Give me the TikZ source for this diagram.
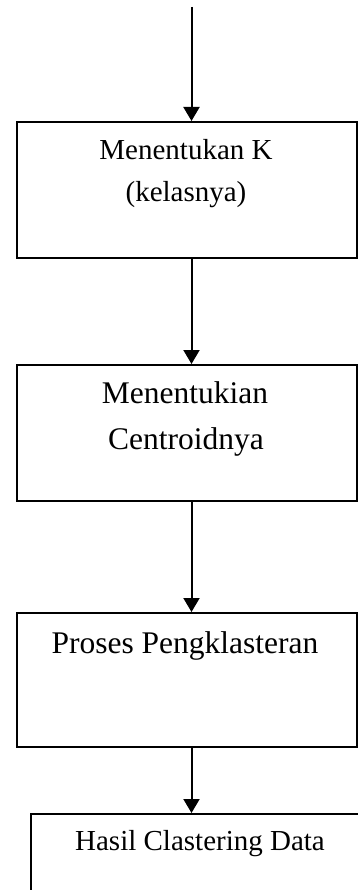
\documentclass[tikz,border=0pt]{standalone}
\usepackage{fontspec}
\setmainfont{Liberation Serif}
\usetikzlibrary{arrows.meta}
\begin{document}
\begin{tikzpicture}[x=1pt,y=-1pt,
  stepbox/.style={draw,line width=1.6pt,rectangle,inner sep=0pt,anchor=north west},
  lbl/.style={anchor=base,inner sep=0pt},
  conn/.style={line width=2pt,-{Triangle[length=14pt,width=16pt]}}]
\useasboundingbox (0,0) rectangle (358,890);
\clip (0,0) rectangle (358,890);
\coordinate (start) at (191.5,7);
\node[stepbox,minimum width=340pt,minimum height=136pt] (b1) at (16,121) {};
\node[stepbox,minimum width=340pt,minimum height=136pt] (b2) at (16,364) {};
\node[stepbox,minimum width=340pt,minimum height=134pt] (b3) at (16,612) {};
\node[stepbox,minimum width=340pt,minimum height=100pt] (b4) at (30,813) {};
\node[lbl,font=\fontsize{29}{34}\selectfont] (t1a) at (186,160) {Menentukan K};
\node[lbl,font=\fontsize{29}{34}\selectfont] (t1b) at (186,202) {(kelasnya)};
\node[lbl,font=\fontsize{31.5}{37}\selectfont] (t2a) at (185,403) {Menentukian};
\node[lbl,font=\fontsize{31.5}{37}\selectfont] (t2b) at (186,449) {Centroidnya};
\node[lbl,font=\fontsize{31.5}{37}\selectfont] (t3) at (185,653) {Proses Pengklasteran};
\node[lbl,font=\fontsize{29}{34}\selectfont] (t4) at (200,850) {Hasil Clastering Data};
\draw[conn] (start) -- (b1.north -| start);
\draw[conn] (b1.south -| start) -- (b2.north -| start);
\draw[conn] (b2.south -| start) -- (b3.north -| start);
\draw[conn] (b3.south -| start) -- (b4.north -| start);
\end{tikzpicture}
\end{document}
